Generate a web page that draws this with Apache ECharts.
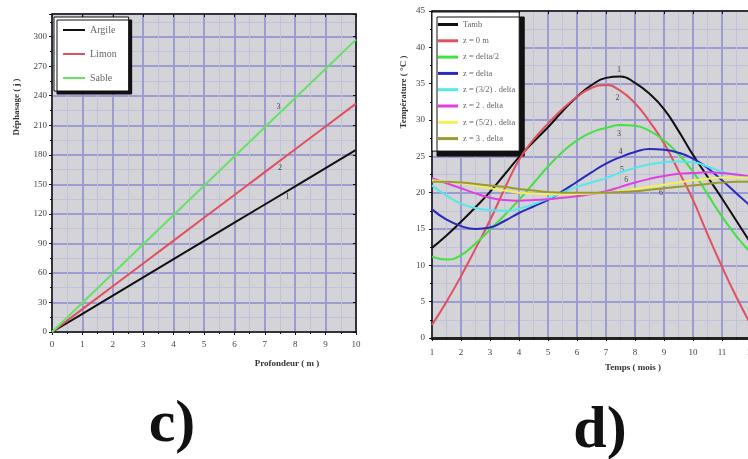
<!DOCTYPE html>
<html>
<head>
<meta charset="utf-8">
<script src="https://cdn.jsdelivr.net/npm/echarts@6/dist/echarts.min.js"></script>
<style>
html,body{margin:0;padding:0;background:#fff;}
#c{width:748px;height:459px;}
</style>
</head>
<body>
<div id="c"></div>
<script>
// ---- Chart c) : Déphasage vs Profondeur ----
const profondeur = [0, 1, 2, 3, 4, 5, 6, 7, 8, 9, 10];
const argile = [0, 18.5, 37, 55.5, 74, 92.5, 111, 129.5, 148, 166.5, 185];
const limon  = [0, 23.2, 46.4, 69.6, 92.8, 116, 139.2, 162.4, 185.6, 208.8, 232];
const sable  = [0, 29.7, 59.4, 89.1, 118.8, 148.5, 178.2, 207.9, 237.6, 267.3, 297];
const namesC = ['Argile', 'Limon', 'Sable'];
const curveLabelsC = [['1', 7.75, 137], ['2', 7.5, 167], ['3', 7.45, 229]];

// ---- Chart d) : Température vs Temps ----
const mois = [1, 1.5, 2, 2.5, 3, 3.5, 4, 4.5, 5, 5.5, 6, 6.5, 7, 7.5, 8, 8.5, 9, 9.5, 10, 10.5, 11, 11.5, 12];
const tamb   = [12.4, 14.1, 16.0, 18.0, 20.1, 22.5, 24.9, 27.0, 29.0, 31.2, 33.2, 34.8, 35.8, 36.0, 35.1, 33.6, 31.5, 28.5, 25.2, 22.2, 19.2, 16.1, 13.0];
const z0     = [1.8, 5.0, 8.5, 12.3, 16.2, 20.5, 24.5, 27.3, 29.5, 31.5, 33.2, 34.4, 34.8, 34.0, 32.3, 29.8, 26.8, 23.0, 19.0, 14.3, 9.8, 5.6, 1.8];
const zHalf  = [11.2, 10.8, 11.4, 13.0, 14.9, 16.9, 19.0, 21.3, 23.6, 25.6, 27.2, 28.3, 28.9, 29.3, 29.2, 28.5, 27.2, 25.3, 22.9, 19.8, 16.7, 14.0, 11.7];
const zDelta = [17.7, 16.3, 15.4, 15.0, 15.2, 16.1, 17.2, 18.1, 19.0, 20.2, 21.5, 22.8, 24.0, 24.9, 25.6, 26.0, 25.9, 25.5, 24.7, 23.4, 21.7, 19.9, 18.1];
const z32    = [21.0, 19.6, 18.5, 17.9, 17.6, 17.5, 17.8, 18.4, 19.2, 20.0, 20.8, 21.4, 22.0, 22.8, 23.4, 23.9, 24.2, 24.3, 24.2, 23.6, 22.9, 22.4, 22.0];
const z2     = [22.0, 21.3, 20.6, 19.9, 19.3, 19.0, 18.9, 19.0, 19.1, 19.3, 19.5, 19.8, 20.2, 20.8, 21.4, 21.9, 22.3, 22.6, 22.7, 22.8, 22.7, 22.5, 22.2];
const z52    = [21.7, 21.5, 21.3, 21.0, 20.6, 20.3, 20.0, 19.9, 19.8, 19.8, 19.8, 19.9, 20.0, 20.2, 20.5, 20.8, 21.1, 21.4, 21.7, 21.9, 22.1, 22.1, 22.1];
const z3     = [21.5, 21.5, 21.4, 21.2, 21.0, 20.8, 20.5, 20.3, 20.1, 20.0, 20.0, 20.0, 20.0, 20.1, 20.2, 20.4, 20.6, 20.8, 21.0, 21.2, 21.4, 21.5, 21.5];
const namesD = ['Tamb', 'z = 0 m', 'z = delta/2', 'z = delta', 'z = (3/2) . delta', 'z = 2 . delta', 'z = (5/2) . delta', 'z = 3 . delta'];
const curveLabelsD = [['1', 7.45, 36.9], ['2', 7.4, 33.0], ['3', 7.45, 28.1], ['4', 7.5, 25.6], ['5', 7.55, 23.2], ['6', 7.7, 21.8], ['6', 8.9, 19.9]];

const colorsC = ['#111111', '#e0505e', '#66e266'];
const colorsD = ['#111111', '#e0505e', '#44e044', '#2a2ab8', '#55e8e8', '#e040e0', '#f0f060', '#9a9a30'];

const serif = 'Liberation Serif';
const gridBg = '#d3d3d8';
const major = '#9c9cd0';
const minor = '#c2c2da';

function pairs(xs, ys) { return xs.map((x, i) => [x, ys[i]]); }

function valueAxis(opts) {
  return Object.assign({
    type: 'value',
    axisLine: { show: true, onZero: false, lineStyle: { color: '#111', width: 1.5 } },
    axisTick: { show: true, length: 3, lineStyle: { color: '#111' } },
    minorTick: { show: true, splitNumber: 2, length: 2, lineStyle: { color: '#111' } },
    splitLine: { show: true, lineStyle: { color: major, width: 2 } },
    minorSplitLine: { show: true, lineStyle: { color: minor, width: 1 } },
    axisLabel: { fontFamily: serif, fontSize: 9, color: '#444' }
  }, opts);
}
function frameAxis(opts) {
  return Object.assign({
    type: 'value',
    axisLine: { show: true, onZero: false, lineStyle: { color: '#111', width: 1.5 } },
    axisTick: { show: true, inside: true, length: 3, lineStyle: { color: '#111' } },
    splitLine: { show: false },
    axisLabel: { show: false }
  }, opts);
}

const series = [];
const cData = [argile, limon, sable];
cData.forEach((d, i) => {
  const lab = curveLabelsC[i];
  series.push({
    type: 'line', name: namesC[i], xAxisIndex: 0, yAxisIndex: 0,
    data: pairs(profondeur, d), showSymbol: false, symbol: 'none',
    lineStyle: { color: colorsC[i], width: 2 }, itemStyle: { color: colorsC[i] }, z: 5,
    markPoint: {
      symbol: 'circle', symbolSize: 0, silent: true,
      label: { show: true, position: 'inside', fontFamily: serif, fontSize: 8, color: '#444', formatter: p => p.value },
      data: [{ coord: [lab[1], lab[2]], value: lab[0] }]
    }
  });
});
const dData = [tamb, z0, zHalf, zDelta, z32, z2, z52, z3];
dData.forEach((d, i) => {
  series.push({
    type: 'line', name: namesD[i], xAxisIndex: 2, yAxisIndex: 2,
    data: pairs(mois, d), smooth: 0.5, showSymbol: false, symbol: 'none',
    lineStyle: { color: colorsD[i], width: 2 }, itemStyle: { color: colorsD[i] }, z: 5
  });
});
series[3].markPoint = {
  symbol: 'circle', symbolSize: 0, silent: true,
  label: { show: true, position: 'inside', fontFamily: serif, fontSize: 8, color: '#444', formatter: p => p.value },
  data: curveLabelsD.map(l => ({ coord: [l[1], l[2]], value: l[0] }))
};

const option = {
  animation: false,
  backgroundColor: '#fff',
  grid: [
    { left: 52, top: 14, width: 304, height: 318, show: true, backgroundColor: gridBg, borderColor: '#111', borderWidth: 1, outerBoundsMode: 'none', containLabel: false },
    { left: 432, top: 11, width: 319, height: 327, show: true, backgroundColor: gridBg, borderColor: '#111', borderWidth: 1, outerBoundsMode: 'none', containLabel: false }
  ],
  xAxis: [
    valueAxis({ gridIndex: 0, min: 0, max: 10, interval: 1, axisLabel: { fontFamily: serif, fontSize: 9, color: '#444', margin: 8 } }),
    frameAxis({ gridIndex: 0, position: 'top', min: 0, max: 10, interval: 1 }),
    valueAxis({ gridIndex: 1, min: 1, max: 12, interval: 1, axisLine: { show: true, onZero: false, lineStyle: { color: '#222', width: 3 } },
      axisLabel: { fontFamily: serif, fontSize: 9, color: '#444', margin: 10 } }),
    frameAxis({ gridIndex: 1, position: 'top', min: 1, max: 12, interval: 1 })
  ],
  yAxis: [
    valueAxis({ gridIndex: 0, min: 0, max: 323, interval: 30,
      axisLabel: { fontFamily: serif, fontSize: 9, color: '#444', margin: 5, formatter: v => (v % 30 === 0 ? String(v) : '') } }),
    frameAxis({ gridIndex: 0, position: 'right', min: 0, max: 323, interval: 30 }),
    valueAxis({ gridIndex: 1, min: 0, max: 45, interval: 5, axisLabel: { fontFamily: serif, fontSize: 9, color: '#444', margin: 7 } }),
    frameAxis({ gridIndex: 1, position: 'right', min: 0, max: 45, interval: 5 })
  ],
  legend: [
    {
      data: namesC, left: 54, top: 17, orient: 'vertical', icon: 'rect', itemWidth: 22, itemHeight: 2, itemGap: 14,
      padding: [8, 12, 8, 9], backgroundColor: '#fff', borderColor: '#111', borderWidth: 1,
      shadowColor: '#111', shadowOffsetX: 3, shadowOffsetY: 3, shadowBlur: 0.01,
      textStyle: { fontFamily: serif, fontSize: 10, color: '#666' }, selectedMode: false
    },
    {
      data: namesD, left: 432, top: 12, orient: 'vertical', icon: 'rect', itemWidth: 20, itemHeight: 3, itemGap: 7.3,
      padding: [8, 4, 8, 6], backgroundColor: '#fff', borderColor: '#111', borderWidth: 1,
      shadowColor: '#111', shadowOffsetX: 5, shadowOffsetY: 5, shadowBlur: 0.01,
      textStyle: { fontFamily: serif, fontSize: 8.5, color: '#666', width: 60, overflow: 'truncate', ellipsis: '' }, selectedMode: false
    }
  ],
  graphic: [
    { type: 'text', x: 287, y: 364, style: { text: 'Profondeur ( m )', font: 'bold 9px "Liberation Serif"', fill: '#333', align: 'center', verticalAlign: 'middle' } },
    { type: 'text', x: 633, y: 368, style: { text: 'Temps ( mois )', font: 'bold 9px "Liberation Serif"', fill: '#333', align: 'center', verticalAlign: 'middle' } },
    { type: 'text', x: 17, y: 107, rotation: Math.PI / 2, style: { text: 'Déphasage ( j )', font: 'bold 9px "Liberation Serif"', fill: '#333', align: 'center', verticalAlign: 'middle' } },
    { type: 'text', x: 404, y: 92, rotation: Math.PI / 2, style: { text: 'Température ( °C )', font: 'bold 9px "Liberation Serif"', fill: '#333', align: 'center', verticalAlign: 'middle' } },
    { type: 'text', x: 172, y: 425, style: { text: 'c)', font: 'bold 60px "Liberation Serif"', fill: '#111', align: 'center', verticalAlign: 'middle' } },
    { type: 'text', x: 600, y: 431, style: { text: 'd)', font: 'bold 60px "Liberation Serif"', fill: '#111', align: 'center', verticalAlign: 'middle' } }
  ],
  series: series
};

const chart = echarts.init(document.getElementById('c'), null, { renderer: 'canvas' });
chart.setOption(option);
</script>
</body>
</html>
